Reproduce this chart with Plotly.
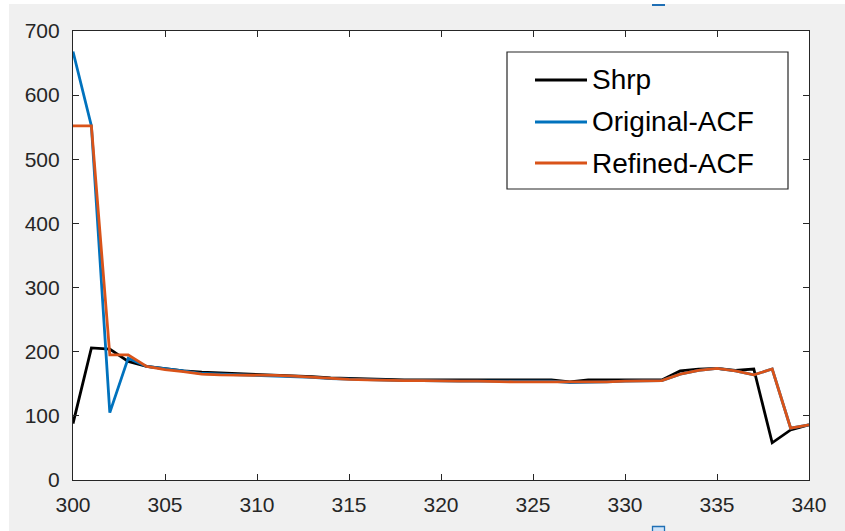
import plotly.graph_objects as go

# Sample positions
x_vals = list(range(300, 341))

shrp = [88, 206, 204, 185, 177, 173, 170, 168, 167, 166,
        165, 164, 163, 161, 159, 158, 157, 157, 156, 156,
        156, 156, 156, 156, 156, 156, 156, 153, 156, 156,
        156, 156, 156, 170, 173, 174, 171, 173, 58, 78,
        86]

original_acf = [668, 552, 105, 190, 177, 174, 170, 166, 165, 164,
                164, 163, 162, 160, 158, 157, 156, 155, 155, 155,
                154, 154, 154, 154, 154, 154, 154, 152, 152, 153,
                154, 154, 155, 165, 171, 174, 170, 164, 173, 81,
                86]

refined_acf = [552, 552, 195, 195, 177, 172, 169, 165, 164, 164,
               164, 163, 162, 160, 158, 157, 156, 155, 155, 155,
               154, 154, 154, 153, 153, 153, 153, 152, 152, 153,
               154, 154, 155, 165, 171, 174, 170, 164, 173, 81,
               86]

series_names = ["Shrp", "Original-ACF", "Refined-ACF"]
series_colors = ["#000000", "#0072BD", "#D95319"]
series_values = [shrp, original_acf, refined_acf]

x_ticks = list(range(300, 341, 5))
y_ticks = list(range(0, 701, 100))

W, H = 845, 531
L, R, T, B = 73, 809, 31, 480   # plot-area edges in pixels

fig = go.Figure()
for name, color, vals in zip(series_names, series_colors, series_values):
    fig.add_trace(go.Scatter(x=x_vals, y=vals, mode="lines", name=name,
                             line=dict(color=color, width=2.8),
                             showlegend=False))

axis_common = dict(showgrid=False, zeroline=False, showline=True, mirror="ticks",
                   linecolor="#262626", linewidth=1.2, ticks="inside", ticklen=6,
                   tickcolor="#262626", tickwidth=1.2,
                   tickfont=dict(family="Liberation Sans, Arial", size=21, color="#262626"))

fig.update_xaxes(range=[300, 340], tickvals=x_ticks, ticklabelstandoff=6, **axis_common)
fig.update_yaxes(range=[0, 700], tickvals=y_ticks, ticklabelstandoff=8, **axis_common)


def px_x(p):
    return (p - L) / (R - L)


def px_y(p):
    return (B - p) / (B - T)


shapes = [
    # white strips along the top and left window edges
    dict(type="rect", xref="paper", yref="paper", x0=px_x(0), x1=px_x(W),
         y0=px_y(0), y1=px_y(4), fillcolor="white", line_width=0, layer="below"),
    dict(type="rect", xref="paper", yref="paper", x0=px_x(0), x1=px_x(9),
         y0=px_y(0), y1=px_y(H), fillcolor="white", line_width=0, layer="below"),
    # small selection handles
    dict(type="rect", xref="paper", yref="paper", x0=px_x(652), x1=px_x(665),
         y0=px_y(4), y1=px_y(6), fillcolor="#1f6fb5", line_width=0),
    dict(type="rect", xref="paper", yref="paper", x0=px_x(652.5), x1=px_x(664.5),
         y0=px_y(526.5), y1=px_y(533), fillcolor="#cfe3f7",
         line=dict(color="#1f6fb5", width=1.3)),
    # legend box
    dict(type="rect", xref="paper", yref="paper", x0=px_x(507), x1=px_x(788),
         y0=px_y(189), y1=px_y(52), fillcolor="white",
         line=dict(color="#262626", width=1.2)),
]

annotations = []
legend_rows = [80, 122, 163]
for name, color, ry in zip(series_names, series_colors, legend_rows):
    shapes.append(dict(type="line", xref="paper", yref="paper",
                       x0=px_x(535), x1=px_x(587), y0=px_y(ry), y1=px_y(ry),
                       line=dict(color=color, width=2.8)))
    annotations.append(dict(xref="paper", yref="paper", x=px_x(590), y=px_y(ry),
                            text=name, showarrow=False, xanchor="left", yanchor="middle",
                            font=dict(family="Liberation Sans, Arial", size=28, color="#000000")))

fig.update_layout(
    width=W, height=H,
    margin=dict(l=L, r=W - R, t=T, b=H - B),
    paper_bgcolor="#f0f0f0", plot_bgcolor="white",
    shapes=shapes, annotations=annotations,
)

fig.write_html("out.html")
